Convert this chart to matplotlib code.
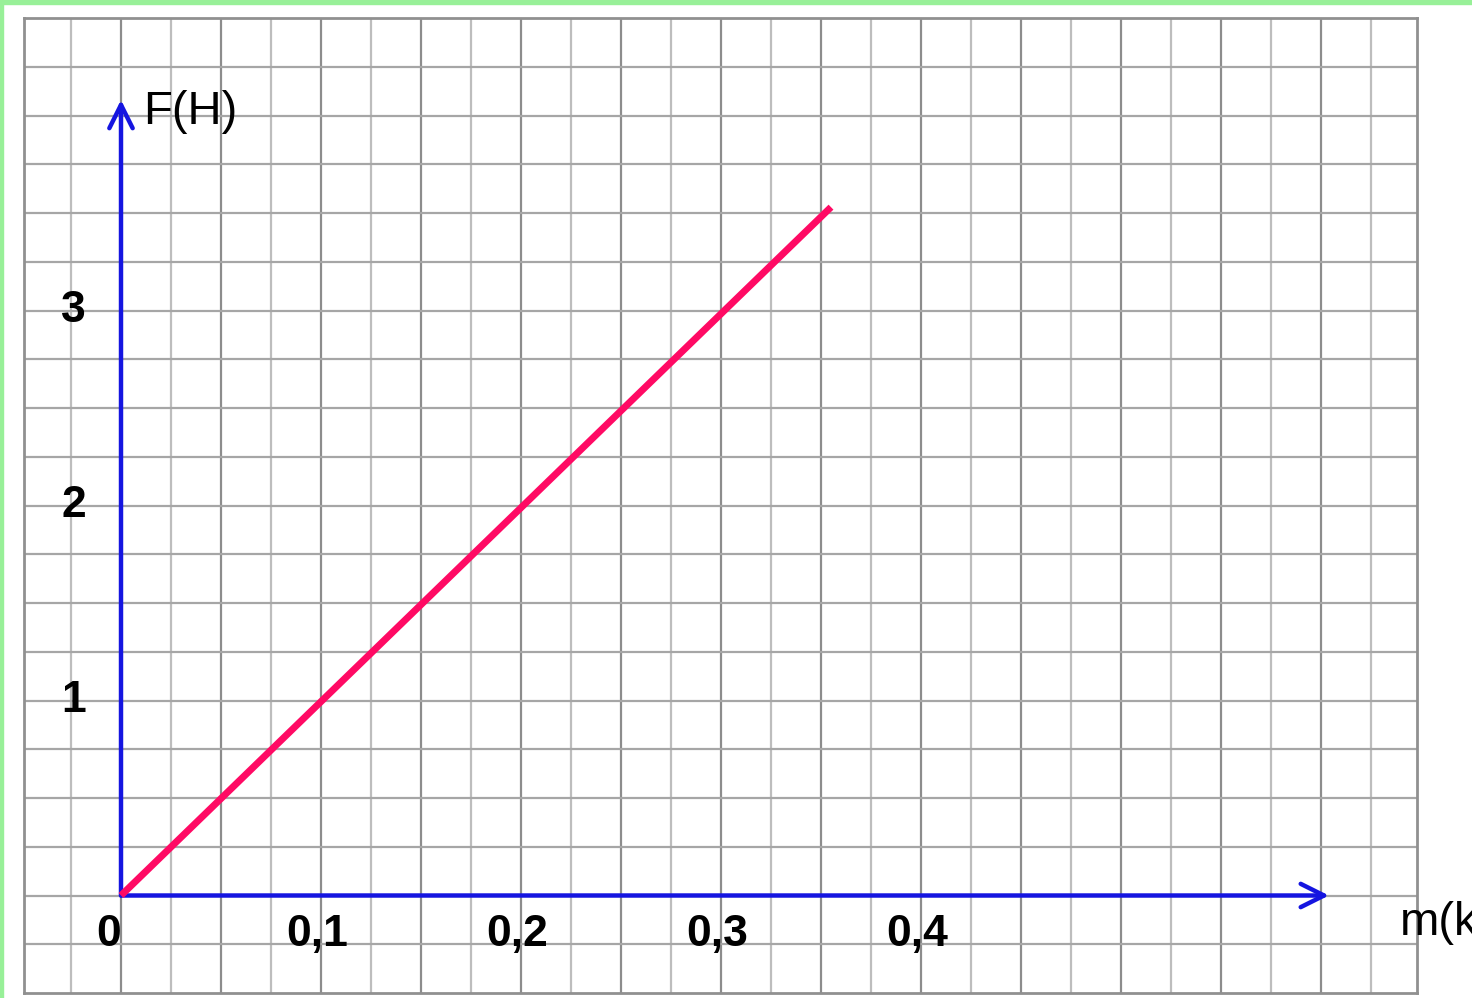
import numpy as np
import matplotlib.pyplot as plt
from matplotlib.patches import Rectangle

# data
m = [0.0, 0.355]
F = [0.0, 3.53]
x_ticks = [0, 0.1, 0.2, 0.3, 0.4]
x_labels = ['0', '0,1', '0,2', '0,3', '0,4']
y_ticks = [1, 2, 3]
y_labels = ['1', '2', '3']

W, H = 1472, 998
fig = plt.figure(figsize=(W / 100, H / 100), dpi=100)
fig.patch.set_facecolor('white')

# axes box = grid paper area
x0, x1, y0, y1 = 24, 1417, 18, 993
ax = fig.add_axes([x0 / W, 1 - y1 / H, (x1 - x0) / W, (y1 - y0) / H])
ax.set_xlim(-0.0485, 0.648)
ax.set_ylim(-0.5, 4.5)
ax.set_xticks([])
ax.set_yticks([])
for s in ax.spines.values():
    s.set_color('#909090')
    s.set_linewidth(2)

# grid paper
for i, gx in enumerate(np.arange(-0.025, 0.64, 0.025)):
    dark = i % 2 == 1
    ax.axvline(gx, color='#8c8c8c' if dark else '#bdbdbd', lw=1.6, zorder=1)
for gy in np.arange(-0.25, 4.5, 0.25):
    ax.axhline(gy, color='#a6a6a6', lw=1.6, zorder=1)

# axes arrows
blue = '#1515e0'
ax.annotate('', xy=(0, 4.08), xytext=(0, 0),
            arrowprops=dict(arrowstyle='->', color=blue, lw=3.2,
                            mutation_scale=42, shrinkA=0, shrinkB=0), zorder=3)
ax.annotate('', xy=(0.604, 0), xytext=(0, 0),
            arrowprops=dict(arrowstyle='->', color=blue, lw=3.2,
                            mutation_scale=42, shrinkA=0, shrinkB=0), zorder=3)

# the graph
ax.plot(m, F, color='#ff0a64', lw=5, solid_capstyle='butt', zorder=4)

# labels
fam = ['Liberation Sans', 'DejaVu Sans']
for v, t in zip(x_ticks, x_labels):
    xx = v - 0.006 if v == 0 else v - 0.002
    ax.text(xx, -0.2, t, ha='center', va='center', fontsize=32,
            fontweight='bold', family=fam, zorder=5)
for v, t in zip(y_ticks, y_labels):
    ax.text(-0.0175, v, t, ha='right', va='center', fontsize=32,
            fontweight='bold', family=fam, zorder=5)
ax.text(0.011, 4.02, 'F(H)', ha='left', va='center', fontsize=34,
        family=fam, zorder=5)
ax.text(0.6395, -0.14, 'm(kg)', ha='left', va='center', fontsize=34,
        family=fam, zorder=5, clip_on=False)

# light green frame at top and left
green = '#98f098'
fig.patches.append(Rectangle((0, 1 - 4 / H), 1, 4 / H, transform=fig.transFigure,
                             color=green, zorder=10))
fig.patches.append(Rectangle((0, 0), 3 / W, 1, transform=fig.transFigure,
                             color=green, zorder=10))

plt.savefig('out.png', dpi=100)
